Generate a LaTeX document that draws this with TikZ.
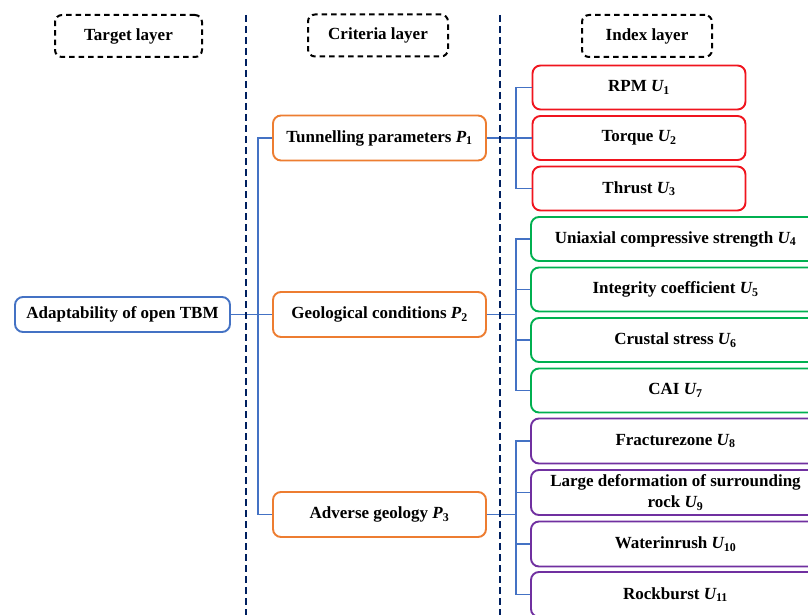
\documentclass[tikz,border=0pt]{standalone}
\usepackage{fontspec}
\setmainfont{Liberation Serif}
\definecolor{conblue}{RGB}{68,114,196}
\definecolor{orng}{RGB}{237,125,49}
\definecolor{redb}{RGB}{240,20,30}
\definecolor{grnb}{RGB}{0,176,80}
\definecolor{purb}{RGB}{112,48,160}
\definecolor{navy}{RGB}{0,32,96}
\newcommand{\U}[1]{{\itshape U}\textsubscript{#1}}
\newcommand{\Pp}[1]{{\itshape P}\textsubscript{#1}}
\begin{document}
\begin{tikzpicture}[x=1pt,y=-1pt,
  every node/.style={font=\fontsize{17}{18.5}\selectfont\bfseries, inner sep=2pt},
  hbox/.style={draw=black, dashed, dash pattern=on 5.5pt off 4pt, line width=2pt, rounded corners=7pt, minimum height=42pt},
  cbox/.style={draw, line width=1.9pt, rounded corners=8pt, fill=white, align=center},
  pbox/.style={cbox, draw=orng, minimum width=213pt, minimum height=45pt},
  rbox/.style={cbox, draw=redb, minimum width=213pt, minimum height=44pt},
  gbox/.style={cbox, draw=grnb, minimum width=289pt, minimum height=44pt},
  vbox/.style={cbox, draw=purb, minimum width=289pt, minimum height=45pt},
  con/.style={draw=conblue, line width=1.9pt},
  sep/.style={draw=navy, line width=2.6pt, dash pattern=on 7pt off 4pt}]
\clip (0,0) rectangle (808,615);
\fill[white] (0,0) rectangle (808,615);
% layer headers
\node[hbox, minimum width=147pt] (ht) at (128.5,36) {Target layer};
\node[hbox, minimum width=140pt] (hc) at (378,35.5) {Criteria layer};
\node[hbox, minimum width=130pt] (hi) at (647,36) {Index layer};
% coordinates for separators and junctions
\coordinate (s1t) at (246,15);
\coordinate (s1b) at (246,615);
\coordinate (s2t) at (500,15);
\coordinate (s2b) at (500,615);
\coordinate (jl) at (258,0);
\coordinate (jr) at (516,0);
% target
\node[cbox, draw=conblue, minimum width=215pt, minimum height=35pt] (A) at (122.5,314.5) {Adaptability of open TBM};
% criteria
\node[pbox] (P1) at (379.5,138) {Tunnelling parameters \Pp{1}};
\node[pbox] (P2) at (379.5,314.5) {Geological conditions \Pp{2}};
\node[pbox] (P3) at (379.5,514.5) {Adverse geology \Pp{3}};
% index
\node[rbox] (U1) at (639,87.5) {RPM \U{1}};
\node[rbox] (U2) at (639,138) {Torque \U{2}};
\node[rbox] (U3) at (639,188.5) {Thrust \U{3}};
\node[gbox] (U4) at (675.5,239) {Uniaxial compressive strength \U{4}};
\node[gbox] (U5) at (675.5,289.5) {Integrity coefficient \U{5}};
\node[gbox] (U6) at (675.5,340) {Crustal stress \U{6}};
\node[gbox] (U7) at (675.5,390.5) {CAI \U{7}};
\node[vbox] (U8) at (675.5,441) {Fracturezone \U{8}};
\node[vbox, align=center, font=\fontsize{17}{21}\selectfont\bfseries] (U9) at (675.5,492.5) {Large deformation of surrounding\\rock \U{9}};
\node[vbox] (U10) at (675.5,544) {Waterinrush \U{10}};
\node[vbox] (U11) at (675.5,594.5) {Rockburst \U{11}};
% connectors
\draw[con] (A) -- (P2);
\draw[con] (P1.west) -| (jl |- P3.west) -- (P3.west);
\draw[con] (P1.east) -- (U2.west);
\draw[con] (U1.west) -| (jr |- U3.west) -- (U3.west);
\draw[con] (P2.east) -- (P2.east -| jr);
\draw[con] (U4.west) -| (jr |- U7.west) -- (U7.west);
\draw[con] (U5.west) -- (U5.west -| jr);
\draw[con] (U6.west) -- (U6.west -| jr);
\draw[con] (P3.east) -- (P3.east -| jr);
\draw[con] (U8.west) -| (jr |- U11.west) -- (U11.west);
\draw[con] (U9.west) -- (U9.west -| jr);
\draw[con] (U10.west) -- (U10.west -| jr);
% separators
\draw[sep] (s1t) -- (s1b);
\draw[sep] (s2t) -- (s2b);
\end{tikzpicture}
\end{document}
